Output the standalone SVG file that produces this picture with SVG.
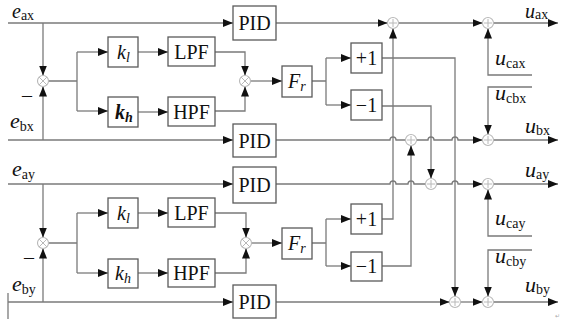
<svg xmlns="http://www.w3.org/2000/svg" width="565" height="322" viewBox="0 0 565 322">
<style>
.ln{fill:none;stroke:#7a7a7a;stroke-width:1.3}
.bx{fill:#fff;stroke:#5a5a5a;stroke-width:1.3}
.sm{fill:#fff;stroke:#b8b8b8;stroke-width:1.1}
.smx{fill:none;stroke:#b8b8b8;stroke-width:1}
.t{font-family:"Liberation Serif","Times New Roman",serif;font-size:20px;fill:#111}
.i{font-style:italic}
.s{font-size:14px}
.v{font-size:22px}
</style>
<defs>
<marker id="a" viewBox="0 0 10 8" markerWidth="10" markerHeight="8" refX="10" refY="4" orient="auto" markerUnits="userSpaceOnUse">
<path d="M0,0 L10,4 L0,8 Z" fill="#111"/>
</marker>
</defs>
<g id="connectors">
<path class="ln" d="M8,23 H233" marker-end="url(#a)"/>
<path class="ln" d="M276,23 H387.5" marker-end="url(#a)"/>
<path class="ln" d="M398.5,23 H482.5" marker-end="url(#a)"/>
<path class="ln" d="M493.5,23 H558" marker-end="url(#a)"/>
<path class="ln" d="M43,23 V75.5" marker-end="url(#a)"/>
<path class="ln" d="M43,140 V86.5" marker-end="url(#a)"/>
<path class="ln" d="M48.5,81 H77 M77,52 V111"/>
<path class="ln" d="M77,52 H108" marker-end="url(#a)"/>
<path class="ln" d="M77,111 H108" marker-end="url(#a)"/>
<path class="ln" d="M138,52 H168" marker-end="url(#a)"/>
<path class="ln" d="M138,112 H168" marker-end="url(#a)"/>
<path class="ln" d="M215,52 H245 V75.5" marker-end="url(#a)"/>
<path class="ln" d="M215,111 H245 V86.5" marker-end="url(#a)"/>
<path class="ln" d="M250.5,81 H282" marker-end="url(#a)"/>
<path class="ln" d="M312,81 H326 M326,58 V105"/>
<path class="ln" d="M326,58 H351" marker-end="url(#a)"/>
<path class="ln" d="M326,105 H351" marker-end="url(#a)"/>
<path class="ln" d="M382,58 H455 V296.5" marker-end="url(#a)"/>
<path class="ln" d="M382,106 H431 V178.5" marker-end="url(#a)"/>
<path class="ln" d="M8,140 H233" marker-end="url(#a)"/>
<path class="ln" d="M276,140 H390 A3,3 0 0 1 396,140 H405.5"/>
<path class="ln" d="M416.5,140 H428 A3,3 0 0 1 434,140 H452 A3,3 0 0 1 458,140 H482.5" marker-end="url(#a)"/>
<path class="ln" d="M493.5,140 H558" marker-end="url(#a)"/>
<path class="ln" d="M532,75 H488 V28.5" marker-end="url(#a)"/>
<path class="ln" d="M532,87 H488 V134.5" marker-end="url(#a)"/>
<path class="ln" d="M8,184 H233" marker-end="url(#a)"/>
<path class="ln" d="M276,184 H390 A3,3 0 0 1 396,184 H408 A3,3 0 0 1 414,184 H425.5"/>
<path class="ln" d="M436.5,184 H452 A3,3 0 0 1 458,184 H482.5" marker-end="url(#a)"/>
<path class="ln" d="M493.5,184 H558" marker-end="url(#a)"/>
<path class="ln" d="M43,184 V237.5" marker-end="url(#a)"/>
<path class="ln" d="M43,302 V248.5" marker-end="url(#a)"/>
<path class="ln" d="M48.5,243 H77 M77,213 V273"/>
<path class="ln" d="M77,213 H108" marker-end="url(#a)"/>
<path class="ln" d="M77,273 H108" marker-end="url(#a)"/>
<path class="ln" d="M138,213 H168" marker-end="url(#a)"/>
<path class="ln" d="M138,273 H168" marker-end="url(#a)"/>
<path class="ln" d="M215,213 H246 V237.5" marker-end="url(#a)"/>
<path class="ln" d="M215,273 H246 V248.5" marker-end="url(#a)"/>
<path class="ln" d="M251.5,243 H282" marker-end="url(#a)"/>
<path class="ln" d="M312,243 H326 M326,219 V266"/>
<path class="ln" d="M326,219 H351" marker-end="url(#a)"/>
<path class="ln" d="M326,266 H351" marker-end="url(#a)"/>
<path class="ln" d="M382,219 H393 V28.5" marker-end="url(#a)"/>
<path class="ln" d="M382,266 H411 V145.5" marker-end="url(#a)"/>
<path class="ln" d="M8,302 H233" marker-end="url(#a)"/>
<path class="ln" d="M8,293 V319"/>
<path class="ln" d="M276,302 H449.5" marker-end="url(#a)"/>
<path class="ln" d="M460.5,302 H482.5" marker-end="url(#a)"/>
<path class="ln" d="M493.5,302 H558" marker-end="url(#a)"/>
<path class="ln" d="M532,236 H488 V189.5" marker-end="url(#a)"/>
<path class="ln" d="M532,250 H488 V296.5" marker-end="url(#a)"/>
</g>
<g id="pid_ax"><rect class="bx" x="233" y="6" width="43" height="34"/><text class="t" x="254.5" y="30" text-anchor="middle">PID</text></g>
<g id="pid_bx"><rect class="bx" x="233" y="124" width="43" height="33"/><text class="t" x="254.5" y="147.5" text-anchor="middle">PID</text></g>
<g id="mul_x1"><circle class="sm" cx="43" cy="81" r="5.5"/><path class="smx" d="M39.1,77.1 L46.9,84.9 M46.9,77.1 L39.1,84.9"/></g>
<g id="kl_x"><rect class="bx" x="108" y="37" width="30" height="30"/><text class="t i" x="117" y="59">k<tspan class="s" dy="3">l</tspan></text></g>
<g id="kh_x"><rect class="bx" x="108" y="97" width="30" height="30"/><text class="t i" x="115" y="119" font-weight="bold">k<tspan class="s" dy="3">h</tspan></text></g>
<g id="lpf_x"><rect class="bx" x="168" y="37" width="47" height="29"/><text class="t" x="191.5" y="58.5" text-anchor="middle">LPF</text></g>
<g id="hpf_x"><rect class="bx" x="168" y="97" width="47" height="29"/><text class="t" x="191.5" y="118.5" text-anchor="middle">HPF</text></g>
<g id="mul_x2"><circle class="sm" cx="245" cy="81" r="5.5"/><path class="smx" d="M241.1,77.1 L248.9,84.9 M248.9,77.1 L241.1,84.9"/></g>
<g id="fr_x"><rect class="bx" x="282" y="66" width="30" height="31"/><text class="t i" x="288" y="88">F<tspan class="s" dy="3">r</tspan></text></g>
<g id="p1_x"><rect class="bx" x="351" y="43" width="31" height="30"/><text class="t" x="366.5" y="65" text-anchor="middle">+1</text></g>
<g id="m1_x"><rect class="bx" x="351" y="90" width="31" height="30"/><text class="t" x="366.5" y="112" text-anchor="middle">−1</text></g>
<g id="sum_ax1"><circle class="sm" cx="393" cy="23" r="5.5"/><path class="smx" d="M389,23 H397 M393,19 V27"/></g>
<g id="sum_ax2"><circle class="sm" cx="488" cy="23" r="5.5"/><path class="smx" d="M484,23 H492 M488,19 V27"/></g>
<g id="sum_bx1"><circle class="sm" cx="411" cy="140" r="5.5"/><path class="smx" d="M407,140 H415 M411,136 V144"/></g>
<g id="sum_bx2"><circle class="sm" cx="488" cy="140" r="5.5"/><path class="smx" d="M484,140 H492 M488,136 V144"/></g>
<g id="pid_ay"><rect class="bx" x="233" y="167" width="43" height="36"/><text class="t" x="254.5" y="192" text-anchor="middle">PID</text></g>
<g id="pid_by"><rect class="bx" x="233" y="285" width="43" height="33"/><text class="t" x="254.5" y="309" text-anchor="middle">PID</text></g>
<g id="mul_y1"><circle class="sm" cx="43" cy="243" r="5.5"/><path class="smx" d="M39.1,239.1 L46.9,246.9 M46.9,239.1 L39.1,246.9"/></g>
<g id="kl_y"><rect class="bx" x="108" y="198" width="30" height="30"/><text class="t i" x="117" y="220">k<tspan class="s" dy="3">l</tspan></text></g>
<g id="kh_y"><rect class="bx" x="108" y="259" width="30" height="29"/><text class="t i" x="115" y="280">k<tspan class="s" dy="3">h</tspan></text></g>
<g id="lpf_y"><rect class="bx" x="168" y="198" width="47" height="29"/><text class="t" x="191.5" y="219.5" text-anchor="middle">LPF</text></g>
<g id="hpf_y"><rect class="bx" x="168" y="259" width="47" height="28"/><text class="t" x="191.5" y="280" text-anchor="middle">HPF</text></g>
<g id="mul_y2"><circle class="sm" cx="246" cy="243" r="5.5"/><path class="smx" d="M242.1,239.1 L249.9,246.9 M249.9,239.1 L242.1,246.9"/></g>
<g id="fr_y"><rect class="bx" x="282" y="228" width="30" height="31"/><text class="t i" x="288" y="250">F<tspan class="s" dy="3">r</tspan></text></g>
<g id="p1_y"><rect class="bx" x="351" y="204" width="31" height="30"/><text class="t" x="366.5" y="226" text-anchor="middle">+1</text></g>
<g id="m1_y"><rect class="bx" x="351" y="252" width="31" height="29"/><text class="t" x="366.5" y="273" text-anchor="middle">−1</text></g>
<g id="sum_ay1"><circle class="sm" cx="431" cy="184" r="5.5"/><path class="smx" d="M427,184 H435 M431,180 V188"/></g>
<g id="sum_ay2"><circle class="sm" cx="488" cy="184" r="5.5"/><path class="smx" d="M484,184 H492 M488,180 V188"/></g>
<g id="sum_by1"><circle class="sm" cx="455" cy="302" r="5.5"/><path class="smx" d="M451,302 H459 M455,298 V306"/></g>
<g id="sum_by2"><circle class="sm" cx="488" cy="302" r="5.5"/><path class="smx" d="M484,302 H492 M488,298 V306"/></g>
<g id="labels">
<text class="t i" x="12" y="18">e<tspan class="s" font-style="normal" dy="2">ax</tspan></text>
<text class="t" x="22" y="102">–</text>
<text class="t v i" x="10" y="128">e<tspan class="s" font-style="normal" dy="3">bx</tspan></text>
<text class="t v i" x="12" y="176">e<tspan class="s" font-style="normal" dy="3">ay</tspan></text>
<text class="t" x="24" y="264">–</text>
<text class="t v i" x="12" y="291">e<tspan class="s" font-style="normal" dy="3">by</tspan></text>
<text class="t i" x="525" y="18">u<tspan class="s" font-style="normal" dy="1">ax</tspan></text>
<text class="t v i" x="495" y="65">u<tspan class="s" font-style="normal" dy="3">cax</tspan></text>
<text class="t v i" x="495" y="100">u<tspan class="s" font-style="normal" dy="3">cbx</tspan></text>
<text class="t v i" x="525" y="133">u<tspan class="s" font-style="normal" dy="2">bx</tspan></text>
<text class="t v i" x="525" y="177">u<tspan class="s" font-style="normal" dy="2">ay</tspan></text>
<text class="t v i" x="495" y="225">u<tspan class="s" font-style="normal" dy="3">cay</tspan></text>
<text class="t v i" x="495" y="263">u<tspan class="s" font-style="normal" dy="3">cby</tspan></text>
<text class="t v i" x="525" y="292">u<tspan class="s" font-style="normal" dy="2">by</tspan></text>
<text x="555" y="318" font-family="DejaVu Sans,sans-serif" font-size="6" fill="#aaa">↵</text>
</g>
</svg>
